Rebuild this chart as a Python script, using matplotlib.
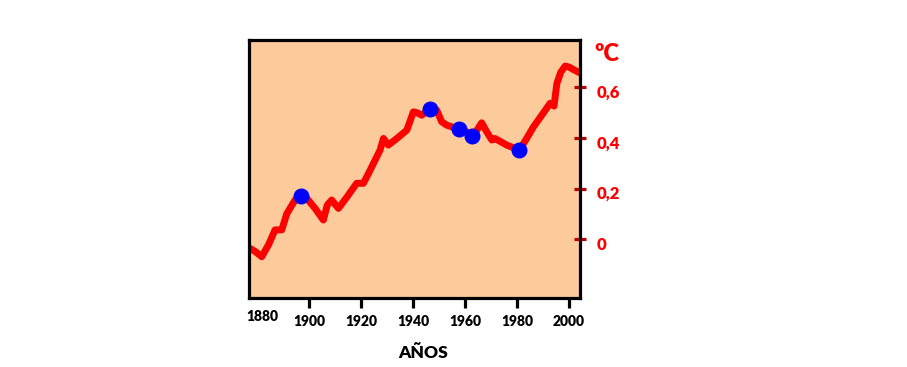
import matplotlib
matplotlib.use("Agg")
import matplotlib.pyplot as plt
from matplotlib.transforms import ScaledTranslation

# temperature anomaly curve
years = [1877.3, 1879.5, 1881.8, 1884.5, 1886.9, 1889.5, 1891.4, 1894.6, 1896.8,
         1899.1, 1902.3, 1905.5, 1907.0, 1908.7, 1911.3, 1914.8, 1918.3, 1920.9,
         1923.5, 1927.3, 1928.6, 1930.5, 1934.0, 1937.6, 1940.1, 1941.5, 1943.3,
         1946.5, 1949.1, 1951.0, 1952.9, 1955.5, 1957.8, 1960.6, 1962.7, 1964.5,
         1966.4, 1968.0, 1970.3, 1971.5, 1976.0, 1980.9, 1983.5, 1986.3, 1989.5,
         1992.7, 1994.2, 1995.3, 1996.8, 1998.5, 2000.0, 2001.7, 2004.2]
temps = [-0.036, -0.050, -0.069, -0.020, 0.037, 0.037, 0.100, 0.155, 0.172,
         0.162, 0.122, 0.076, 0.135, 0.155, 0.122, 0.170, 0.221, 0.221,
         0.273, 0.352, 0.398, 0.372, 0.400, 0.431, 0.503, 0.500, 0.490,
         0.514, 0.510, 0.464, 0.451, 0.442, 0.434, 0.424, 0.408, 0.430,
         0.460, 0.430, 0.392, 0.398, 0.372, 0.352, 0.395, 0.444, 0.490,
         0.537, 0.526, 0.615, 0.660, 0.684, 0.680, 0.670, 0.657]

# blue markers
dot_years = [1896.8, 1946.5, 1957.8, 1962.7, 1980.9]
dot_temps = [0.172, 0.514, 0.434, 0.408, 0.352]

y_ticks = [0, 0.2, 0.4, 0.6]
y_labels = ["0", "0,2", "0,4", "0,6"]
x_ticks = [1900, 1920, 1940, 1960, 1980, 2000]
x_labels = ["1900", "1920", "1940", "1960", "1980", "2000"]

plt.rcParams['font.family'] = ['Lato', 'DejaVu Sans']

fig = plt.figure(figsize=(9.07, 3.67), dpi=100)
ax = fig.add_axes([249 / 907, 1 - 298 / 367, 331 / 907, 258 / 367])
ax.set_facecolor('#fdcb9b')

ax.plot(years, temps, color='#ff0000', linewidth=5, solid_capstyle='round',
        solid_joinstyle='round', zorder=2)
ax.plot(dot_years, dot_temps, 'o', color='#0000ff', markersize=10.5, zorder=3)

ax.set_xlim(1876.9, 2004.2)
ax.set_ylim(-0.232, 0.787)

for spine in ax.spines.values():
    spine.set_linewidth(2.3)
    spine.set_color('black')

# right-hand y axis
ax.yaxis.tick_right()
ax.set_yticks(y_ticks)
ax.set_yticklabels(y_labels, fontsize=12, fontweight='heavy', color='#ff0000')
ax.tick_params(axis='y', direction='inout', length=8, width=2.3, color='#c00000', pad=8)
for lab in ax.get_yticklabels():
    lab.set_transform(lab.get_transform() + ScaledTranslation(0, -4 / 100, fig.dpi_scale_trans))

ax.set_xticks(x_ticks)
ax.set_xticklabels(x_labels, fontsize=10, fontweight='heavy')
ax.tick_params(axis='x', direction='out', length=7, width=2.3, color='black', pad=5)
# 1880 has a label but no tick
ax.text(1882, -0.232, "1880", fontsize=10, fontweight='heavy', ha='center', va='top',
        transform=ax.transData + ScaledTranslation(0, -12 / 100, fig.dpi_scale_trans))

fig.text(594 / 907, 1 - 54 / 367, "ºC", fontsize=17, fontweight='heavy', color='#ff0000',
         ha='left', va='center')
fig.text(423 / 907, 1 - 353 / 367, "AÑOS", fontsize=12.5, fontweight='heavy', ha='center',
         va='center')

fig.savefig("out.png", dpi=100)
